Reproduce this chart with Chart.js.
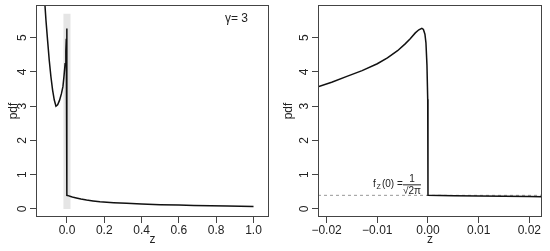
<!DOCTYPE html>
<html>
<head>
<meta charset="utf-8">
<script src="https://cdn.jsdelivr.net/npm/chart.js@4.4.1/dist/chart.umd.min.js"></script>
<style>
  html, body { margin: 0; padding: 0; background: #fff; }
  #wrap { position: relative; width: 550px; height: 251px; }
  #wrap canvas { position: absolute; top: 0; }
</style>
</head>
<body>
<div id="wrap">
  <canvas id="left" width="275" height="251" style="left:0"></canvas>
  <canvas id="right" width="275" height="251" style="left:275px"></canvas>
</div>
<script>
// values
const gammaLabel = 'γ= 3';

const leftZ = [-0.125, -0.118, -0.1126, -0.104, -0.095, -0.086, -0.077, -0.068, -0.059, -0.050,
  -0.040, -0.030, -0.0217, -0.016, -0.010, -0.006, -0.0035, -0.0018, -0.0012, -0.0006,
  -0.0002, -0.00005, 0, 0.01, 0.02, 0.034, 0.05, 0.075, 0.105, 0.14,
  0.177, 0.25, 0.32, 0.4, 0.5, 0.6, 0.68, 0.77, 0.86, 0.93, 1.0];
const leftPdf = [6.6, 5.95, 5.51, 4.93, 4.34, 3.86, 3.47, 3.18, 3.00, 3.04,
  3.17, 3.36, 3.57, 3.87, 4.24, 4.62, 4.97, 5.23, 5.27, 5.10,
  4.2, 3.2, 0.399, 0.383, 0.365, 0.34, 0.32, 0.29, 0.26, 0.235,
  0.21, 0.185, 0.165, 0.145, 0.126, 0.114, 0.105, 0.095, 0.087, 0.081, 0.075];

const rightZ = [-0.0217, -0.019, -0.016, -0.013, -0.010, -0.008, -0.006, -0.0045, -0.0035, -0.0025,
  -0.0018, -0.0012, -0.0009, -0.0006, -0.0004, -0.0002, -0.00005, 0, 0.005, 0.01,
  0.015, 0.02, 0.0225];
const rightPdf = [3.57, 3.70, 3.87, 4.04, 4.24, 4.41, 4.62, 4.82, 4.97, 5.14,
  5.23, 5.27, 5.24, 5.10, 4.85, 4.2, 3.2, 0.399, 0.39, 0.383,
  0.375, 0.365, 0.36];

const bandZ = [-0.02, 0.02];
const bandTop = [5.7, 5.7];
const refZ = [-0.0217, 0.0225];
const refPdf = [0.3989, 0.3989];

const leftTicks = [0, 0.2, 0.4, 0.6, 0.8, 1.0];
const rightTicks = [-0.02, -0.01, 0, 0.01, 0.02];
const yTicks = [0, 1, 2, 3, 4, 5];

const family = '"Liberation Sans", Arial, Helvetica, sans-serif';
const textColor = '#222';
const axisColor = '#444';

const pts = (xs, ys) => xs.map((x, i) => ({ x: x, y: ys[i] }));
const fmt = (v, dec) => v.toFixed(dec).replace('-', '\u2212');

// R-like frame + rotated y labels
const framePlugin = {
  id: 'frame',
  afterDraw(chart) {
    const { ctx, chartArea: a, scales } = chart;
    ctx.save();
    ctx.strokeStyle = axisColor;
    ctx.lineWidth = 1;
    ctx.strokeRect(Math.round(a.left) + 0.5, Math.round(a.top) + 0.5,
      Math.round(a.right - a.left) - 1, Math.round(a.bottom - a.top) - 1);
    ctx.fillStyle = textColor;
    ctx.font = '12px ' + family;
    ctx.textAlign = 'center';
    ctx.textBaseline = 'middle';
    yTicks.forEach(v => {
      const py = scales.y.getPixelForValue(v);
      ctx.save();
      ctx.translate(a.left - 13, py);
      ctx.rotate(-Math.PI / 2);
      ctx.fillText(String(v), 0, 0);
      ctx.restore();
    });
    ctx.restore();
  }
};

function makeOptions(xmin, xmax, xTicks, dec, yWidth, padRight, extra) {
  return {
    responsive: false,
    animation: false,
    layout: { padding: { left: 0, right: padRight, top: 5, bottom: 0 } },
    plugins: { legend: { display: false }, tooltip: { enabled: false } },
    elements: { point: { radius: 0 } },
    scales: {
      x: {
        type: 'linear', min: xmin, max: xmax,
        afterBuildTicks: s => { s.ticks = xTicks.map(v => ({ value: v })); },
        afterFit: s => { s.height = 34; },
        grid: { drawOnChartArea: false, drawTicks: true, tickLength: 6, color: axisColor },
        border: { display: false },
        ticks: {
          color: textColor, font: { family: family, size: 12 }, padding: 0,
          maxRotation: 0, autoSkip: false, callback: v => fmt(v, dec)
        },
        title: { display: true, text: 'z', color: textColor, font: { family: family, size: 12 }, padding: { top: 0, bottom: 4 } }
      },
      y: {
        type: 'linear', min: -0.2335, max: 5.954,
        afterBuildTicks: s => { s.ticks = yTicks.map(v => ({ value: v })); },
        afterFit: s => { s.width = yWidth; },
        grid: { drawOnChartArea: false, drawTicks: true, tickLength: 6, color: axisColor },
        border: { display: false },
        ticks: { display: false },
        title: { display: true, text: 'pdf', color: textColor, font: { family: family, size: 12 }, padding: { top: 6, bottom: 0 } }
      }
    }
  };
}

new Chart(document.getElementById('left'), {
  type: 'line',
  data: {
    datasets: [
      {
        data: pts(bandZ, bandTop), fill: 'origin', backgroundColor: '#e5e5e5',
        borderWidth: 0, pointRadius: 0, order: 2
      },
      {
        data: pts(leftZ, leftPdf), borderColor: '#111', borderWidth: 1.5,
        pointRadius: 0, tension: 0, fill: false, clip: 0, order: 1
      }
    ]
  },
  options: makeOptions(-0.166, 1.083, leftTicks, 1, 36, 6),
  plugins: [framePlugin, {
    id: 'gammaText',
    afterDraw(chart) {
      const { ctx, chartArea: a } = chart;
      ctx.save();
      ctx.fillStyle = textColor;
      ctx.font = '12px ' + family;
      ctx.textAlign = 'right';
      ctx.textBaseline = 'middle';
      ctx.fillText(gammaLabel, a.right - 21, a.top + 14);
      ctx.restore();
    }
  }]
});

new Chart(document.getElementById('right'), {
  type: 'line',
  data: {
    datasets: [
      {
        data: pts(refZ, refPdf), borderColor: '#999', borderWidth: 1, borderDash: [3, 3],
        pointRadius: 0, fill: false, order: 2
      },
      {
        data: pts(rightZ, rightPdf), borderColor: '#111', borderWidth: 1.5,
        pointRadius: 0, tension: 0, fill: false, clip: 0, order: 1
      }
    ]
  },
  options: makeOptions(-0.0217, 0.0225, rightTicks, 2, 43, 8),
  plugins: [framePlugin, {
    id: 'annot',
    afterDraw(chart) {
      const { ctx, scales } = chart;
      const x0 = scales.x.getPixelForValue(0);
      const y0 = scales.y.getPixelForValue(refPdf[0]);
      ctx.save();
      ctx.fillStyle = textColor;
      ctx.strokeStyle = textColor;
      ctx.textBaseline = 'alphabetic';
      ctx.textAlign = 'left';
      const by = y0 - 11;
      ctx.font = '10px ' + family;
      ctx.fillText('f', x0 - 55, by + 3);
      ctx.font = '7px ' + family;
      ctx.fillText('Z', x0 - 51.5, by + 5);
      ctx.font = '10px ' + family;
      ctx.fillText('(0) =', x0 - 46, by + 3);
      ctx.textAlign = 'center';
      ctx.fillText('1', x0 - 16, by - 2);
      ctx.lineWidth = 1;
      ctx.beginPath();
      ctx.moveTo(x0 - 25, by + 0.5);
      ctx.lineTo(x0 - 7, by + 0.5);
      ctx.stroke();
      ctx.fillText('\u221A2\u03C0', x0 - 16, by + 10);
      ctx.restore();
    }
  }]
});
</script>
</body>
</html>
